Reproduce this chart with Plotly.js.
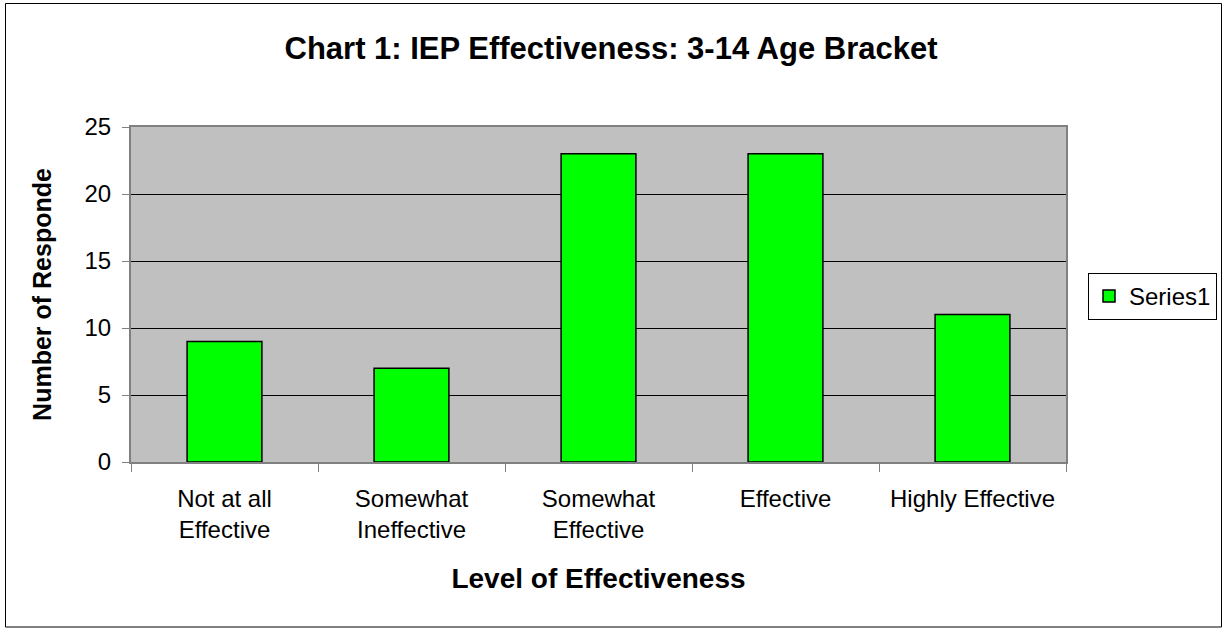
<!DOCTYPE html>
<html>
<head>
<meta charset="utf-8">
<script src="https://cdn.plot.ly/plotly-3.0.1.min.js"></script>
<style>
html,body{margin:0;padding:0;background:#fff;}
#chart{width:1222px;height:628px;}
</style>
</head>
<body>
<div id="chart"></div>
<script>
const categories = ["Not at all<br>Effective", "Somewhat<br>Ineffective", "Somewhat<br>Effective", "Effective", "Highly Effective"];
const values = [9, 7, 23, 23, 11];
const seriesName = "Series1";
const yTicks = [0, 5, 10, 15, 20, 25];

const W = 1222, H = 628;
const M = {l: 131, r: 156, t: 127, b: 166, autoexpand: false};
const pw = W - M.l - M.r, ph = H - M.t - M.b;
function px(x){ return (x - M.l) / pw; }
function py(y){ return (H - M.b - y) / ph; }

const font = "Arial, 'Liberation Sans', sans-serif";

const data = [{
  type: "bar",
  x: categories,
  y: values,
  name: seriesName,
  marker: {color: "#00FF00", line: {color: "#000000", width: 1.5}},
  showlegend: true,
  hoverinfo: "x+y"
}];

const layout = {
  width: W, height: H,
  margin: M,
  paper_bgcolor: "#ffffff",
  plot_bgcolor: "#C0C0C0",
  font: {family: font, size: 24, color: "#000"},
  bargap: 0.6,
  title: {
    text: "<b>Chart 1: IEP Effectiveness: 3-14 Age Bracket</b>",
    font: {family: font, size: 31, color: "#000"},
    x: 0.5, xref: "container", xanchor: "center",
    y: 1 - 48/H, yref: "container", yanchor: "middle"
  },
  xaxis: {
    type: "category",
    tickson: "boundaries",
    ticks: "outside", ticklen: 8, tickcolor: "#808080", tickwidth: 1,
    ticklabelstandoff: 14,
    showline: true, linecolor: "#808080", linewidth: 2, mirror: true,
    showgrid: false,
    tickfont: {family: font, size: 24, color: "#000"},
    title: {text: "<b>Level of Effectiveness</b>", font: {family: font, size: 28, color: "#000"}, standoff: 26},
    fixedrange: true
  },
  yaxis: {
    range: [0, 25],
    tickvals: yTicks,
    ticktext: yTicks.map(String),
    ticks: "outside", ticklen: 7, tickcolor: "#808080", tickwidth: 1,
    ticklabelstandoff: 6,
    showline: true, linecolor: "#808080", linewidth: 2, mirror: true,
    showgrid: true, gridcolor: "#000000", gridwidth: 1,
    zeroline: false,
    tickfont: {family: font, size: 24, color: "#000"},
    title: {text: "<b>Number of Responde</b>", font: {family: font, size: 25, color: "#000"}, standoff: 26},
    fixedrange: true
  },
  legend: {
    x: px(1088), y: py(273), xanchor: "left", yanchor: "top",
    bordercolor: "#000", borderwidth: 1, bgcolor: "#fff",
    font: {family: font, size: 24, color: "#000"}
  },
  shapes: [{
    type: "rect", xref: "paper", yref: "paper",
    x0: px(5.5), x1: px(1221.5), y0: py(627), y1: py(3.5),
    line: {color: "#000", width: 1}, fillcolor: "rgba(0,0,0,0)", layer: "below"
  }]
};

Plotly.newPlot("chart", data, layout, {displayModeBar: false, staticPlot: true});
</script>
</body>
</html>
